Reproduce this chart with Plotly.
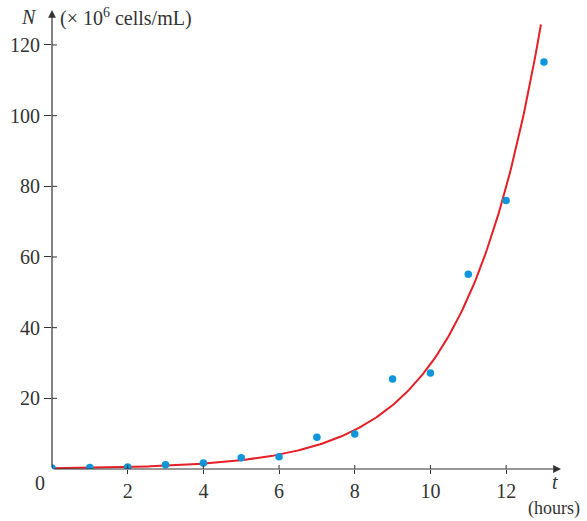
import numpy as np
import plotly.graph_objects as go

# Data
t_hours = [0, 1, 2, 3, 4, 5, 6, 7, 8, 9, 10, 11, 12, 13]
n_cells = [0.3, 0.4, 0.6, 1.2, 1.7, 3.2, 3.5, 9.0, 9.9, 25.5, 27.2, 55.1, 76.0, 115.2]

# Fitted exponential model N = a * exp(b t)
model_a = 0.21
model_b = 0.495
model_t_end = 12.92

x_ticks = [2, 4, 6, 8, 10, 12]
y_ticks = [20, 40, 60, 80, 100, 120]

x_max = 13.45
y_max = 129.9

axis_color = "#333333"
font_family = "Liberation Serif"

t_curve = np.linspace(0, model_t_end, 300)
n_curve = model_a * np.exp(model_b * t_curve)

fig = go.Figure()
fig.add_trace(go.Scatter(x=t_curve, y=n_curve, mode="lines",
                         line=dict(color="#e41f26", width=2), hoverinfo="skip"))
fig.add_trace(go.Scatter(x=t_hours, y=n_cells, mode="markers",
                         marker=dict(color="#0d96d9", size=7.5)))

shapes = []
for v in x_ticks:
    shapes.append(dict(type="line", xref="x", yref="y", ysizemode="pixel", yanchor=0,
                       x0=v, x1=v, y0=0, y1=4, line=dict(color=axis_color, width=1)))
for v in y_ticks:
    shapes.append(dict(type="line", yref="y", xref="x", xsizemode="pixel", xanchor=0,
                       y0=v, y1=v, x0=0, x1=5, line=dict(color=axis_color, width=1)))

annotations = [
    # axis arrows
    dict(x=x_max, y=0, ax=0, ay=0, xref="x", yref="y", axref="x", ayref="y",
         text="", showarrow=True, arrowhead=2, arrowsize=1.3, arrowwidth=1.2,
         arrowcolor=axis_color, standoff=0, startstandoff=0),
    dict(x=0, y=y_max, ax=0, ay=0, xref="x", yref="y", axref="x", ayref="y",
         text="", showarrow=True, arrowhead=2, arrowsize=1.3, arrowwidth=1.2,
         arrowcolor=axis_color, standoff=0, startstandoff=0),
    dict(x=0, y=0, xref="x", yref="y", text="0", showarrow=False,
         xshift=-12, yshift=-14, font=dict(size=20, family=font_family, color=axis_color)),
    dict(x=0, y=y_max, xref="x", yref="y", text="<i>N</i>", showarrow=False,
         xanchor="right", xshift=-13, yshift=-7,
         font=dict(size=20, family=font_family, color=axis_color)),
    dict(x=0, y=y_max, xref="x", yref="y", text="(× 10<sup>6</sup> cells/mL)", showarrow=False,
         xanchor="left", xshift=6, yshift=-7,
         font=dict(size=20, family=font_family, color=axis_color)),
    dict(x=x_max, y=0, xref="x", yref="y", text="<i>t</i>", showarrow=False,
         xanchor="center", xshift=-6, yshift=-13,
         font=dict(size=20, family=font_family, color=axis_color)),
    dict(x=x_max, y=0, xref="x", yref="y", text="(hours)", showarrow=False,
         xanchor="center", xshift=-7, yshift=-39,
         font=dict(size=18, family=font_family, color=axis_color)),
]

fig.update_layout(
    width=587, height=521,
    margin=dict(l=50, r=26, t=10, b=52),
    plot_bgcolor="white", paper_bgcolor="white",
    showlegend=False,
    shapes=shapes,
    annotations=annotations,
    font=dict(family=font_family, size=20, color=axis_color),
    xaxis=dict(range=[0, x_max], tickvals=x_ticks, ticktext=[str(v) for v in x_ticks],
               ticks="outside", ticklen=4, tickcolor=axis_color, showgrid=False,
               zeroline=False, showline=False, fixedrange=True,
               tickfont=dict(size=20, family=font_family, color=axis_color)),
    yaxis=dict(range=[0, y_max], tickvals=y_ticks, ticktext=[str(v) for v in y_ticks],
               ticks="outside", ticklen=7, tickcolor=axis_color, showgrid=False,
               zeroline=False, showline=False, fixedrange=True,
               tickfont=dict(size=20, family=font_family, color=axis_color)),
)

fig.write_html("out.html")
